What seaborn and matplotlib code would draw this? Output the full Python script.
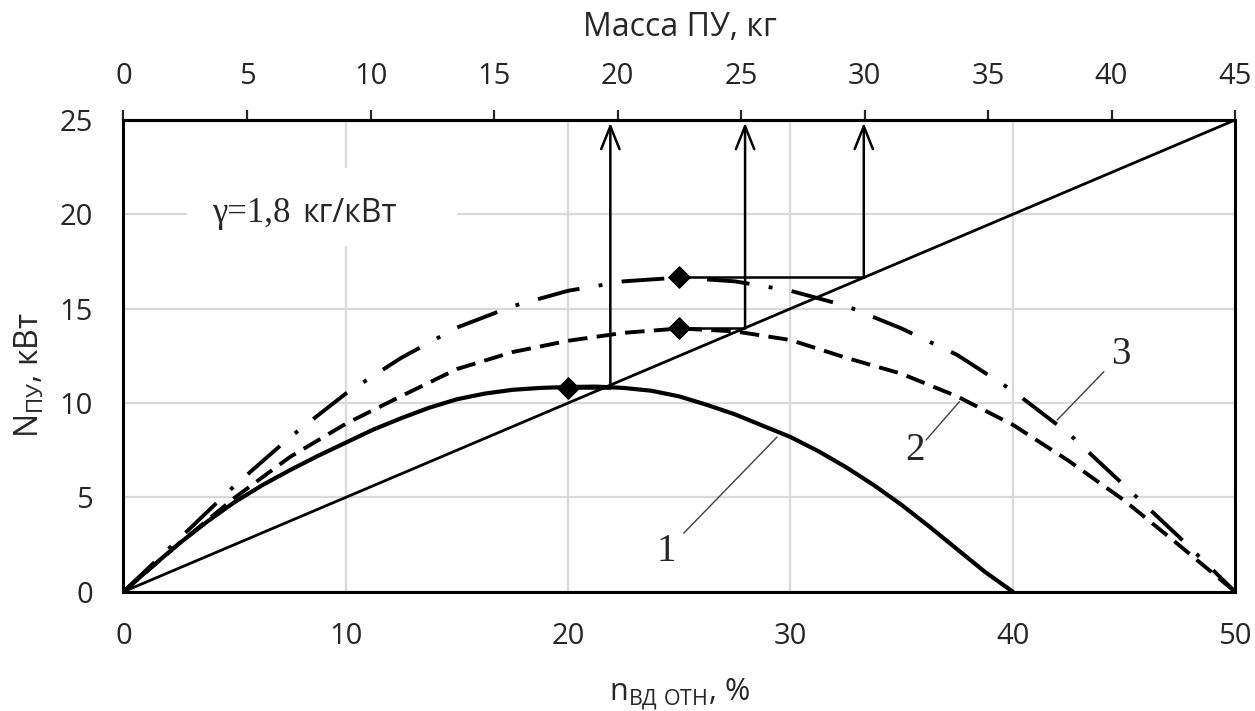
import numpy as np
import pandas as pd
import matplotlib
matplotlib.use("Agg")
import matplotlib.pyplot as plt
from matplotlib.patches import Rectangle
import seaborn as sns

# -------------------------
# Data
# -------------------------
# curve 1 (solid) ends at n = 40 %
n_curve1 = [0, 1.25, 2.5, 3.75, 5, 6.25, 7.5, 8.75, 10, 11.25, 12.5, 13.75, 15, 16.25,
            17.5, 18.75, 20, 21.25, 22.5, 23.75, 25, 26.25, 27.5, 28.75, 30, 31.25,
            32.5, 33.75, 35, 36.25, 37.5, 38.75, 40]
N_curve1 = [0, 1.3, 2.55, 3.7, 4.75, 5.65, 6.45, 7.2, 7.9, 8.6, 9.2, 9.75, 10.2, 10.5,
            10.7, 10.8, 10.85, 10.87, 10.8, 10.65, 10.35, 9.9, 9.4, 8.8, 8.2, 7.45,
            6.6, 5.65, 4.6, 3.45, 2.25, 1.05, 0]

# curves 2 (dashed) and 3 (dash-dot) end at n = 50 %
n_curve23 = [0, 2.5, 5, 7.5, 10, 12.5, 15, 17.5, 20, 22.5, 25, 27.5, 30, 32.5, 35, 37.5, 40, 42.5, 45, 47.5, 50]
N_curve2 = [0, 2.55, 4.98, 7.15, 8.9, 10.37, 11.8, 12.7, 13.3, 13.72, 13.95, 13.8, 13.34, 12.4, 11.55, 10.35, 8.85, 6.95, 4.85, 2.45, 0]
N_curve3 = [0, 2.8, 5.62, 8.2, 10.5, 12.4, 14.0, 15.13, 15.95, 16.45, 16.65, 16.45, 15.95, 15.15, 13.95, 12.55, 10.65, 8.4, 5.65, 2.88, 0]

# maxima (diamonds)
peak_n = [20, 25, 25]
peak_N = [10.8, 14.0, 16.7]

# power line for gamma = 1.8 kg/kW (mass axis: 45 kg at n = 50 %)
gamma = 1.8
mass_per_pct = 0.9
line_n = [0, 50]
line_N = [n * mass_per_pct / gamma for n in line_n]

# arrows up to the mass axis
arrow_n = [21.9, 27.96, 33.3]
arrow_N = [10.95, 14.0, 16.7]

curve_labels = ["1", "2", "3"]

x_ticks = [0, 10, 20, 30, 40, 50]
y_ticks = [0, 5, 10, 15, 20, 25]
mass_ticks = [0, 5, 10, 15, 20, 25, 30, 35, 40, 45]

# -------------------------
# Style
# -------------------------
sns.set_style("white")
plt.rcParams["font.family"] = ["Open Sans", "DejaVu Sans"]
plt.rcParams["axes.unicode_minus"] = False

fig = plt.figure(figsize=(12.55, 7.11), dpi=100)
ax = fig.add_axes([0.0984, 0.1678, 0.8857, 0.6634])

ax.set_xlim(0, 50)
ax.set_ylim(0, 25)
ax.set_xticks(x_ticks)
ax.set_yticks(y_ticks)
ax.grid(True, color="#d9d9d9", lw=1.6)
ax.set_axisbelow(True)

# white box behind the gamma text
ax.add_patch(Rectangle((2.85, 18.3), 12.15, 4.15, facecolor="white", edgecolor="none", zorder=1))

# -------------------------
# Curves
# -------------------------
sns.lineplot(x=n_curve1, y=N_curve1, ax=ax, color="black", lw=3.0, zorder=3)
sns.lineplot(x=n_curve23, y=N_curve2, ax=ax, color="black", lw=2.8,
             linestyle=(0, (5, 2.4)), zorder=3)
sns.lineplot(x=n_curve23, y=N_curve3, ax=ax, color="black", lw=2.8,
             linestyle=(0, (11, 5, 1, 5)), zorder=3)
sns.lineplot(x=line_n, y=line_N, ax=ax, color="black", lw=2.0, zorder=3)

# horizontal connectors from peaks to the power line
for pn, pN, an in zip(peak_n, peak_N, arrow_n):
    ax.plot([pn, an], [pN, pN], color="black", lw=1.8, zorder=3)

# vertical arrows to mass axis
for an, aN in zip(arrow_n, arrow_N):
    ax.annotate("", xy=(an, 24.85), xytext=(an, aN),
                arrowprops=dict(arrowstyle="->,head_width=0.3,head_length=0.75",
                                lw=1.8, color="black", mutation_scale=22,
                                shrinkA=0, shrinkB=0), zorder=4)

sns.scatterplot(x=peak_n, y=peak_N, ax=ax, marker="D", s=120, color="black",
                edgecolor="black", zorder=5)

# curve labels with leader lines
label_pos = [(24.4, 2.15), (35.6, 7.5), (44.85, 12.55)]
leaders = [((25.2, 3.1), (29.4, 8.2)), ((36.1, 8.04), (37.6, 10.07)), ((44.1, 11.66), (42.0, 9.1))]
for lab, (tx, ty), (p0, p1) in zip(curve_labels, label_pos, leaders):
    ax.plot([p0[0], p1[0]], [p0[1], p1[1]], color="#404040", lw=1.0, zorder=3)
    ax.text(tx, ty, lab, family="Liberation Serif", fontsize=28, ha="center", va="center")

# gamma annotation
t1 = ax.text(4.0, 20.05, "γ=1,8", family="Liberation Serif", fontsize=25,
             ha="left", va="center", zorder=4)
ax.annotate("кг/кВт", xy=(1, 0.5), xycoords=t1, xytext=(8, 0), textcoords="offset points",
            fontsize=23, ha="left", va="center", zorder=4)

# -------------------------
# Axes, ticks, labels
# -------------------------
for s in ax.spines.values():
    s.set_color("black")
    s.set_linewidth(2.2)

ax.tick_params(axis="x", length=0, pad=22, labelsize=21)
ax.tick_params(axis="y", length=0, pad=22, labelsize=21)

ax.set_xlabel(r"$\mathregular{n_{ВД\ ОТН}}$, %", fontsize=22)
ax.xaxis.set_label_coords(0.5, -0.18)
ax.set_ylabel(r"$\mathregular{N_{ПУ}}$, кВт", fontsize=23)
ax.yaxis.set_label_coords(-0.069, 0.46)

sec = ax.secondary_xaxis("top", functions=(lambda x: x * mass_per_pct, lambda m: m / mass_per_pct))
sec.set_xticks(mass_ticks)
sec.tick_params(axis="x", direction="out", length=7, width=1.6, pad=14, labelsize=21)
sec.spines["top"].set_linewidth(2.2)
fig.text(0.5415, 0.962, "Масса ПУ, кг", fontsize=23, ha="center", va="center")

fig.savefig("out.png", dpi=100, facecolor="white")
